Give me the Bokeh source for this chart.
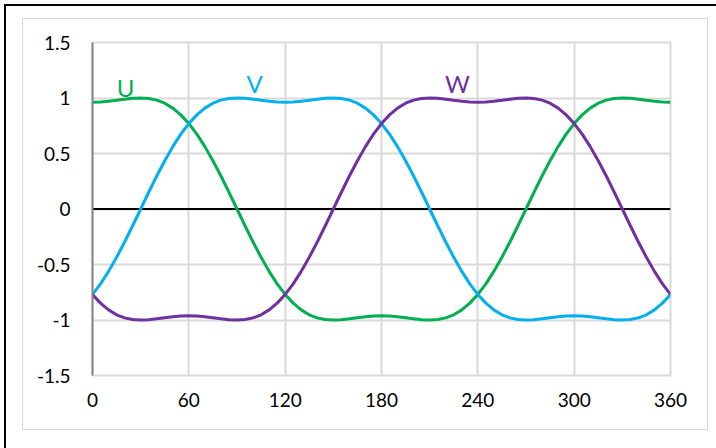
from bokeh.plotting import figure
from bokeh.models import Range1d, Span, FixedTicker
from bokeh.core.properties import value
from bokeh.embed import file_html
from bokeh.resources import INLINE

# angle in degrees (0..360, step 5)
theta = list(range(0, 365, 5))

U = [0.962, 0.964, 0.971, 0.979, 0.989, 0.997, 1.000, 0.996, 0.981, 0.953, 0.909, 0.848,
     0.770, 0.674, 0.562, 0.435, 0.297, 0.151, 0.000, -0.151, -0.297, -0.435, -0.562, -0.674,
     -0.770, -0.848, -0.909, -0.953, -0.981, -0.996, -1.000, -0.997, -0.989, -0.979, -0.971, -0.964,
     -0.962, -0.964, -0.971, -0.979, -0.989, -0.997, -1.000, -0.996, -0.981, -0.953, -0.909, -0.848,
     -0.770, -0.674, -0.562, -0.435, -0.297, -0.151, 0.000, 0.151, 0.297, 0.435, 0.562, 0.674,
     0.770, 0.848, 0.909, 0.953, 0.981, 0.996, 1.000, 0.997, 0.989, 0.979, 0.971, 0.964, 0.962]

V = [-0.770, -0.674, -0.562, -0.435, -0.297, -0.151, 0.000, 0.151, 0.297, 0.435, 0.562, 0.674,
     0.770, 0.848, 0.909, 0.953, 0.981, 0.996, 1.000, 0.997, 0.989, 0.979, 0.971, 0.964,
     0.962, 0.964, 0.971, 0.979, 0.989, 0.997, 1.000, 0.996, 0.981, 0.953, 0.909, 0.848,
     0.770, 0.674, 0.562, 0.435, 0.297, 0.151, 0.000, -0.151, -0.297, -0.435, -0.562, -0.674,
     -0.770, -0.848, -0.909, -0.953, -0.981, -0.996, -1.000, -0.997, -0.989, -0.979, -0.971, -0.964,
     -0.962, -0.964, -0.971, -0.979, -0.989, -0.997, -1.000, -0.996, -0.981, -0.953, -0.909, -0.848, -0.770]

W = [-0.770, -0.848, -0.909, -0.953, -0.981, -0.996, -1.000, -0.997, -0.989, -0.979, -0.971, -0.964,
     -0.962, -0.964, -0.971, -0.979, -0.989, -0.997, -1.000, -0.996, -0.981, -0.953, -0.909, -0.848,
     -0.770, -0.674, -0.562, -0.435, -0.297, -0.151, 0.000, 0.151, 0.297, 0.435, 0.562, 0.674,
     0.770, 0.848, 0.909, 0.953, 0.981, 0.996, 1.000, 0.997, 0.989, 0.979, 0.971, 0.964,
     0.962, 0.964, 0.971, 0.979, 0.989, 0.997, 1.000, 0.996, 0.981, 0.953, 0.909, 0.848,
     0.770, 0.674, 0.562, 0.435, 0.297, 0.151, 0.000, -0.151, -0.297, -0.435, -0.562, -0.674, -0.770]

x_ticks = [0, 60, 120, 180, 240, 300, 360]
y_ticks = [-1.5, -1, -0.5, 0, 0.5, 1, 1.5]
y_tick_labels = ["-1.5", "-1", "-0.5", "0", "0.5", "1", "1.5"]

series_names = ["U", "V", "W"]
series_colors = ["#00b050", "#00b0f0", "#7030a0"]
label_x = [20.6, 100.9, 227.3]
label_y = [1.092, 1.131, 1.131]

FONT = "Lato"

p = figure(width=684, height=410, output_backend="svg", toolbar_location=None,
           x_range=Range1d(0, 360), y_range=Range1d(-1.5, 1.5),
           min_border_left=69, min_border_right=37, min_border_top=23, min_border_bottom=54)
# chart-area border (light gray) and the outer black frame lines (top/left)
p.styles = {
    "margin-left": "23px",
    "margin-top": "19px",
    "outline": "1px solid #d9d9d9",
    "box-shadow": "3px 7px 0px 20px #ffffff, 1px 5px 0px 20px #000000",
}
p.background_fill_color = "white"
p.border_fill_color = "white"
p.outline_line_color = "#d9d9d9"
p.outline_line_width = 2

# grid
p.xgrid.ticker = FixedTicker(ticks=x_ticks)
p.ygrid.ticker = FixedTicker(ticks=y_ticks)
for g in (p.xgrid, p.ygrid):
    g.grid_line_color = "#d9d9d9"
    g.grid_line_width = 2

# x axis
xa = p.xaxis[0]
xa.ticker = FixedTicker(ticks=x_ticks)
xa.axis_line_color = None
xa.major_tick_line_color = None
xa.minor_tick_line_color = None
xa.major_tick_out = 0
xa.major_tick_in = 0
xa.major_label_standoff = 17
xa.major_label_text_font = FONT
xa.major_label_text_font_size = "19px"
xa.major_label_text_color = "black"

# y axis
ya = p.yaxis[0]
ya.ticker = FixedTicker(ticks=y_ticks)
ya.major_label_overrides = {t: s for t, s in zip(y_ticks, y_tick_labels)}
ya.axis_line_color = "#868686"
ya.axis_line_width = 2
ya.major_tick_line_color = None
ya.minor_tick_line_color = None
ya.major_tick_out = 0
ya.major_tick_in = 0
ya.major_label_standoff = 22
ya.major_label_text_font = FONT
ya.major_label_text_font_size = "19px"
ya.major_label_text_color = "black"

# zero line
p.add_layout(Span(location=0, dimension="width", line_color="black", line_width=2, level="underlay"))

# curves
for ys, c in zip([U, V, W], series_colors):
    p.line(theta, ys, line_color=c, line_width=3)

# labels
p.text(x=label_x, y=label_y, text=series_names, text_color=series_colors,
       text_font=value(FONT), text_font_size="24px", text_align="center",
       text_baseline="alphabetic")

open("out.html", "w").write(file_html(p, INLINE))
